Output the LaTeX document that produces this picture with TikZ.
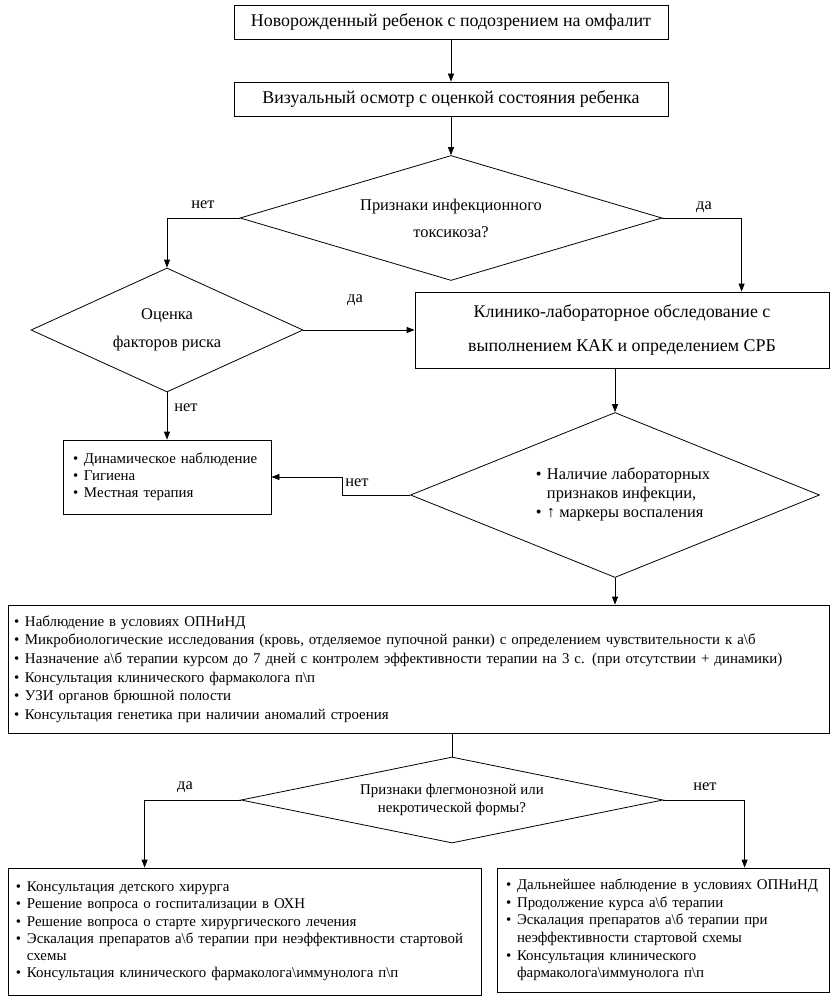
\documentclass[tikz,border=0pt]{standalone}
\usepackage{fontspec}
\setmainfont{Liberation Serif}
\usetikzlibrary{shapes.geometric,arrows.meta}
\newcommand\bsl{\textbackslash}
\newcommand\itm{\makebox[11pt][l]{•}}
\newcommand\ind{\hspace*{11pt}}
\begin{document}
\begin{tikzpicture}[x=1pt,y=-1pt,
  box/.style={draw, line width=0.8pt, inner sep=0pt, align=center},
  listbox/.style={draw, line width=0.8pt, inner ysep=0pt, align=left},
  dec/.style={draw, line width=0.8pt, diamond, inner sep=0pt, align=center},
  arr/.style={line width=0.8pt, -{Triangle[length=8pt,width=6pt]}},
  ln/.style={line width=0.8pt},
  lbl/.style={inner sep=0pt, font=\fontsize{16.4}{19}\selectfont}
]
\useasboundingbox (0,0) rectangle (838,1000);

\node[box, minimum width=434, minimum height=34, font=\fontsize{17.9}{21}\selectfont] (b1) at (451,22) {Новорожденный ребенок с подозрением на омфалит};
\node[box, minimum width=434, minimum height=34, font=\fontsize{17.9}{21}\selectfont] (b2) at (451,99) {Визуальный осмотр с оценкой состояния ребенка};

\node[dec, minimum width=422, minimum height=125, shape aspect=3.38, font=\fontsize{16.4}{27}\selectfont] (d1) at (451,218) {Признаки инфекционного\\токсикоза?};

\node[dec, minimum width=272, minimum height=124, shape aspect=2.19, font=\fontsize{16.4}{28}\selectfont] (d2) at (167,330) {Оценка\\факторов риска};

\node[box, minimum width=414, minimum height=76, font=\fontsize{17.9}{34}\selectfont] (b3) at (622,330) {Клинико-лабораторное обследование с\\выполнением КАК и определением СРБ};

\node[dec, minimum width=409, minimum height=165, shape aspect=2.48, font=\fontsize{16.4}{19}\selectfont] (d3) at (615,495) {\hspace*{16pt}\begin{tabular}{@{}l@{}}\itm Наличие лабораторных\\\ind признаков инфекции,\\\itm ↑ маркеры воспаления\end{tabular}};

\node[listbox, minimum height=74, inner xsep=10pt, text width=188pt, font=\fontsize{14.9}{17}\selectfont] (b4) at (167,477) {\itm Динамическое наблюдение\\\itm Гигиена\\\itm Местная терапия};

\node[listbox, minimum height=128, inner xsep=6pt, text width=809pt, font=\fontsize{14.9}{18.6}\selectfont] (b5) at (418.5,669) {\itm Наблюдение в условиях ОПНиНД\\
\itm Микробиологические исследования (кровь, отделяемое пупочной ранки) с определением чувствительности к а\bsl б\\
\itm Назначение а\bsl б терапии курсом до 7 дней с контролем эффективности терапии на 3 с. (при отсутствии + динамики)\\
\itm Консультация клинического фармаколога п\bsl п\\
\itm УЗИ органов брюшной полости\\
\itm Консультация генетика при наличии аномалий строения};

\node[dec, minimum width=422, minimum height=86, shape aspect=4.9, font=\fontsize{14.9}{17.5}\selectfont] (d4) at (452,800) {Признаки флегмонозной или\\некротической формы?};

\node[listbox, minimum height=127, inner xsep=8pt, text width=457pt, font=\fontsize{14.9}{17.2}\selectfont] (b6) at (244.5,931.5) {\itm Консультация детского хирурга\\
\itm Решение вопроса о госпитализации в ОХН\\
\itm Решение вопроса о старте хирургического лечения\\
\itm Эскалация препаратов а\bsl б терапии при неэффективности стартовой\\\ind схемы\\
\itm Консультация клинического фармаколога\bsl иммунолога п\bsl п};

\node[listbox, minimum height=124, inner xsep=9pt, text width=314pt, font=\fontsize{14.9}{17.6}\selectfont] (b7) at (663,930) {\itm Дальнейшее наблюдение в условиях ОПНиНД\\
\itm Продолжение курса а\bsl б терапии\\
\itm Эскалация препаратов а\bsl б терапии при\\\ind неэффективности стартовой схемы\\
\itm Консультация клинического\\\ind фармаколога\bsl иммунолога п\bsl п};

% connectors
\draw[arr] (b1.south) -- (b2.north);
\draw[arr] (b2.south) -- (d1.north);
\draw[arr] (d1.west) -| (d2.north);
\draw[arr] (d1.east) -| ([xshift=327pt]b3.north west);
\draw[arr] (d2.east) -- (d2.east -| b3.west);
\draw[arr] (d3.north |- b3.south) -- (d3.north);
\draw[arr] (d2.south) -- (b4.north);
\draw[arr] (d3.west) -- ([xshift=-68pt]d3.west) |- (b4.east);
\draw[arr] (d3.south) -- (d3.south |- b5.north);
\draw[ln] (d4.north |- b5.south) -- (d4.north);
\draw[arr] (d4.west) -| ([xshift=137pt]b6.north west);
\draw[arr] (d4.east) -| ([xshift=248pt]b7.north west);

% labels
\node[lbl] (l1) at (203,205) {нет};
\node[lbl] (l2) at (704,207) {да};
\node[lbl] (l3) at (355,300) {да};
\node[lbl] (l4) at (186,408) {нет};
\node[lbl] (l5) at (357,483) {нет};
\node[lbl] (l6) at (185,787) {да};
\node[lbl] (l7) at (705,787) {нет};
\end{tikzpicture}
\end{document}
